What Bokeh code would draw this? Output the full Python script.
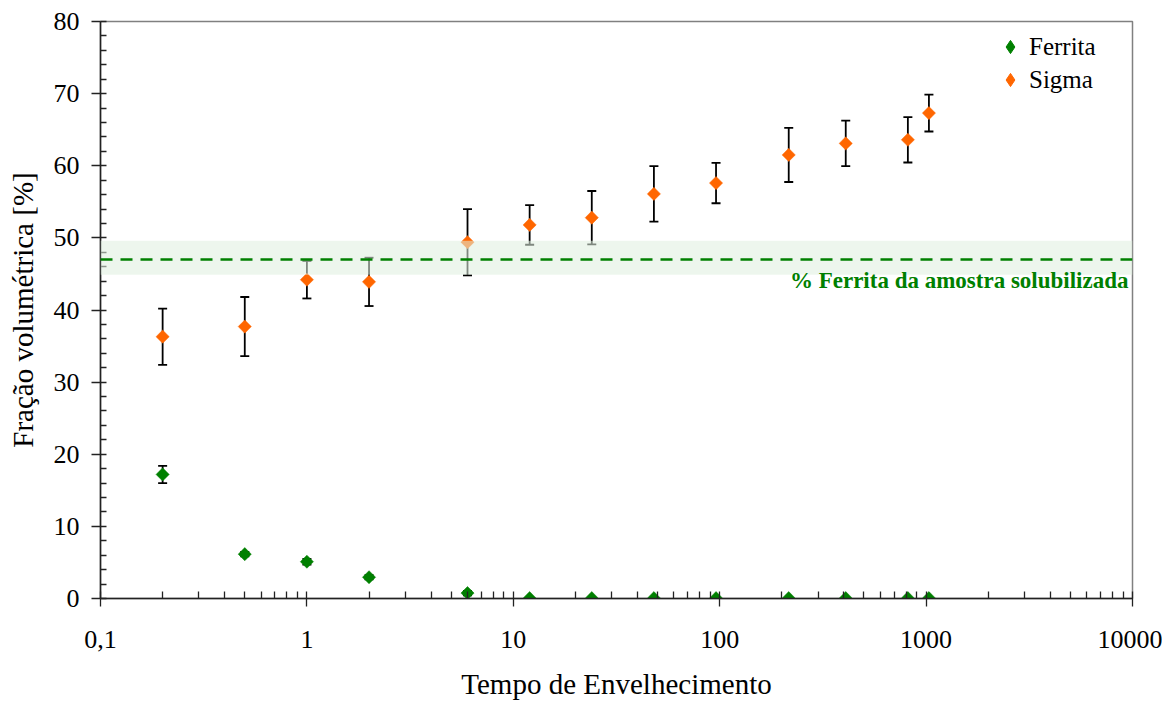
import numpy as np
from bokeh.plotting import figure
from bokeh.models import (ColumnDataSource, Whisker, TeeHead, BoxAnnotation, Span, Label,
                          FixedTicker, CustomJSTickFormatter, Legend, LegendItem)
from bokeh.embed import file_html
from bokeh.resources import INLINE

# ---- data ----
tempo = [0.2, 0.5, 1, 2, 6, 12, 24, 48, 96, 216, 408, 816, 1032]
ferrita = [17.2, 6.15, 5.1, 2.95, 0.75, 0.05, 0.05, 0.05, 0.05, 0.05, 0.05, 0.05, 0.05]
ferrita_err = [1.2, 0.3, 0.4, 0.3, 0.3, 0.05, 0.05, 0.05, 0.05, 0.05, 0.05, 0.05, 0.05]
sigma = [36.3, 37.7, 44.2, 43.9, 49.4, 51.8, 52.8, 56.1, 57.6, 61.5, 63.1, 63.6, 67.3]
sigma_err = [3.9, 4.1, 2.6, 3.35, 4.6, 2.75, 3.7, 3.85, 2.8, 3.75, 3.15, 3.15, 2.55]
ferrita_solub = 47.0
ferrita_solub_lo = 44.9
ferrita_solub_hi = 49.6
x_major = [0.1, 1, 10, 100, 1000, 10000]
y_major = list(range(0, 81, 10))

FONT = "Liberation Serif"
GREEN = "#008000"
ORANGE = "#FF6600"

src = ColumnDataSource(dict(
    t=tempo,
    f=ferrita,
    f_up=[a + b for a, b in zip(ferrita, ferrita_err)],
    f_lo=[a - b for a, b in zip(ferrita, ferrita_err)],
    s=sigma,
    s_up=[a + b for a, b in zip(sigma, sigma_err)],
    s_lo=[a - b for a, b in zip(sigma, sigma_err)],
))

p = figure(width=1162, height=702, x_axis_type="log", x_range=(0.1, 10000), y_range=(0, 80),
           output_backend="svg", toolbar_location=None,
           min_border_left=100, min_border_right=30, min_border_top=21, min_border_bottom=104)
p.background_fill_color = "white"
p.border_fill_color = "white"
p.outline_line_color = "#808080"
p.outline_line_width = 1.5
p.xgrid.visible = False
p.ygrid.visible = False

# error bars (under markers)
for up, lo in (("s_up", "s_lo"), ("f_up", "f_lo")):
    w = Whisker(base="t", upper=up, lower=lo, source=src, dimension="height",
                line_color="black", line_width=1.8, level="underlay",
                upper_head=TeeHead(size=9, line_color="black", line_width=1.8),
                lower_head=TeeHead(size=9, line_color="black", line_width=1.8))
    p.add_layout(w)

p.scatter("t", "f", source=src, marker="square", angle=np.pi / 4, size=9.3,
          fill_color=GREEN, line_color=GREEN, line_width=0.5)
p.scatter("t", "s", source=src, marker="square", angle=np.pi / 4, size=9.3,
          fill_color=ORANGE, line_color=ORANGE, line_width=0.5)

# band + reference line
p.add_layout(BoxAnnotation(bottom=ferrita_solub_lo, top=ferrita_solub_hi,
                           fill_color="#E0F0E0", fill_alpha=0.57, line_color=None,
                           level="annotation"))
p.add_layout(Span(location=ferrita_solub, dimension="width", line_color=GREEN,
                  line_width=2.5, line_dash="12 8", level="annotation"))
p.add_layout(Label(x=10000, y=ferrita_solub, x_offset=-4, y_offset=-21,
                   text="% Ferrita da amostra solubilizada", text_align="right",
                   text_baseline="alphabetic", text_font=FONT, text_font_size="23px",
                   text_font_style="bold", text_color=GREEN))

# legend with invisible (NaN) diamond renderers
nan_src = ColumnDataSource(dict(x=np.array([np.nan]), y=np.array([np.nan])))
lf = p.scatter("x", "y", source=nan_src, marker="diamond", size=15,
               fill_color=GREEN, line_color=GREEN)
ls = p.scatter("x", "y", source=nan_src, marker="diamond", size=15,
               fill_color=ORANGE, line_color=ORANGE)
leg = Legend(items=[LegendItem(label="Ferrita", renderers=[lf]),
                    LegendItem(label="Sigma", renderers=[ls])],
             location=(891, 502), padding=5, spacing=0, margin=0,
             glyph_width=38, glyph_height=33, label_height=30, label_standoff=-3,
             label_text_font=FONT, label_text_font_size="25px", label_text_color="black",
             border_line_color=None, background_fill_alpha=0)
p.add_layout(leg, "center")

# axes
p.xaxis.ticker = FixedTicker(ticks=x_major,
                             minor_ticks=[m * d for d in [0.1, 1, 10, 100, 1000] for m in range(2, 10)])
p.xaxis.formatter = CustomJSTickFormatter(
    code="return (tick < 1) ? String(tick).replace('.', ',') : String(Math.round(tick));")
p.yaxis.ticker = FixedTicker(ticks=y_major, minor_ticks=list(range(0, 81, 2)))

for ax in (p.xaxis[0], p.yaxis[0]):
    ax.axis_line_color = "#222222"
    ax.axis_line_width = 1.5
    ax.major_tick_line_color = "#222222"
    ax.minor_tick_line_color = "#222222"
    ax.major_tick_line_width = 1.3
    ax.minor_tick_line_width = 1.3
    ax.major_label_text_font = FONT
    ax.major_label_text_font_size = "26px"
    ax.major_label_text_color = "black"
    ax.axis_label_text_font = FONT
    ax.axis_label_text_font_size = "29px"
    ax.axis_label_text_font_style = "normal"
    ax.axis_label_text_color = "black"

p.xaxis.axis_label = "Tempo de Envelhecimento"
p.xaxis.major_tick_in = 7
p.xaxis.major_tick_out = 8
p.xaxis.minor_tick_in = 7
p.xaxis.minor_tick_out = 0
p.xaxis.major_label_standoff = 24
p.xaxis.axis_label_standoff = 17

p.yaxis.axis_label = "Fração volumétrica [%]"
p.yaxis.major_tick_in = 0
p.yaxis.major_tick_out = 9
p.yaxis.minor_tick_in = 6
p.yaxis.minor_tick_out = 0
p.yaxis.major_label_standoff = 12
p.yaxis.axis_label_standoff = 12

open("out.html", "w").write(file_html(p, INLINE))
